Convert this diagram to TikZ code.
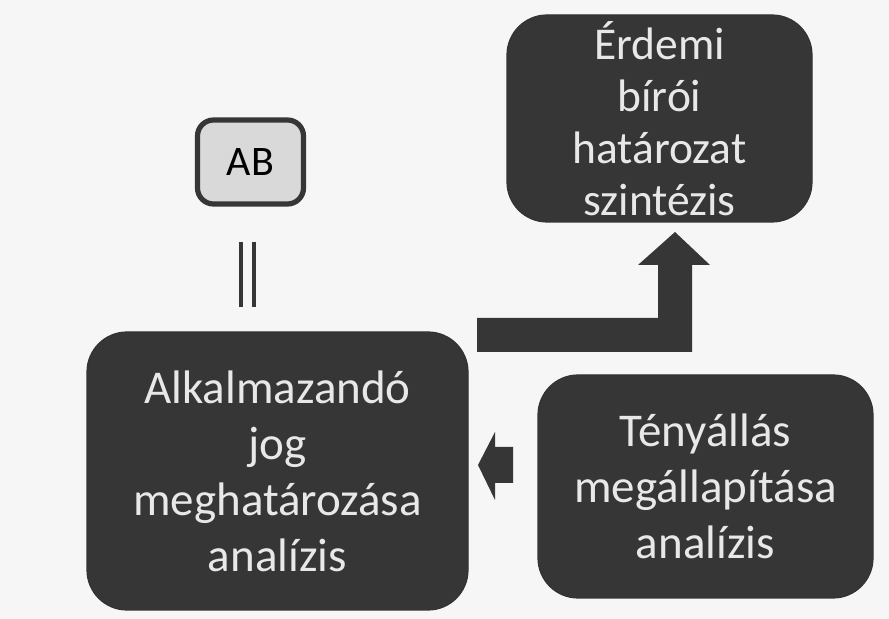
\documentclass[tikz,border=0pt]{standalone}
\usepackage{fontspec}
\setmainfont{Carlito}
\usetikzlibrary{calc}

\definecolor{boxgray}{HTML}{363636}
\definecolor{txtgray}{HTML}{E8E8E8}
\definecolor{abgray}{HTML}{D9D9D9}
\definecolor{bggray}{HTML}{F6F6F6}

\begin{document}
\begin{tikzpicture}[x=0.5pt,y=-0.5pt,
    darkbox/.style={draw=black!80,line width=0.6pt,fill=boxgray,text=txtgray,rounded corners=20pt,align=center,inner sep=0pt,font=\fontsize{23.5}{28}\selectfont},
    abbox/.style={draw=boxgray,line width=2.6pt,fill=abgray,rounded corners=8pt,inner sep=0pt,minimum width=53pt,minimum height=42pt,font=\fontsize{21}{25}\selectfont},
    blockarrow/.style={fill=boxgray}]
  \fill[bggray] (0,0) rectangle (889,619);
  \useasboundingbox (0,0) rectangle (889,619);

  \node[abbox] (ab) at (250.5,162) {AB};
  \node[darkbox,minimum width=152.5pt,minimum height=103.5pt,font=\fontsize{22.75}{26}\selectfont] (erdemi) at (659.5,118.5) {Érdemi\\bírói\\határozat\\szintézis};
  \node[darkbox,minimum width=190.5pt,minimum height=139pt] (jog) at (277.5,471) {Alkalmazandó\\jog\\meghatározása\\analízis};
  \node[darkbox,minimum width=167.5pt,minimum height=111.5pt] (teny) at (705.5,486.5) {Tényállás\\megállapítása\\analízis};

  % AB = ...
  \coordinate (eqtop) at (247.5,242);
  \coordinate (eqbot) at (247.5,307);
  \draw[line width=2pt,double=bggray,double distance=4.5pt,color=boxgray] (eqtop) -- (eqbot);

  % block arrows
  \fill[blockarrow] (477,318) -- (658,318) -- (658,265) -- (638,265) -- (675,232) -- (710,265) -- (692,265) -- (692,352) -- (477,352) -- cycle;
  \fill[blockarrow] (478,465) -- (495,432) -- (495,447) -- (513,447) -- (513,483) -- (495,483) -- (495,500) -- cycle;
\end{tikzpicture}
\end{document}
